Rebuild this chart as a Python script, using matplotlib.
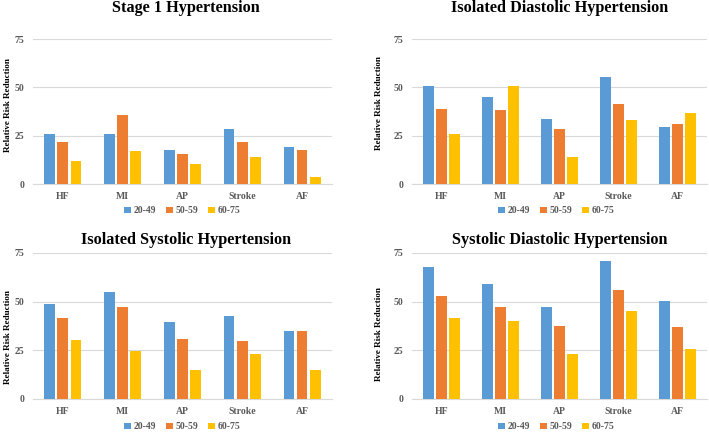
import numpy as np
import matplotlib.pyplot as plt

categories = ["HF", "MI", "AP", "Stroke", "AF"]
age_groups = ["20-49", "50-59", "60-75"]

stage1 = [
    [25.8, 26.0, 17.7, 28.6, 19.4],
    [21.5, 35.8, 15.7, 21.7, 17.4],
    [12.0, 17.2, 10.5, 13.8, 3.4],
]
isolated_diastolic = [
    [50.7, 45.1, 33.7, 55.4, 29.6],
    [38.7, 38.2, 28.6, 41.3, 31.0],
    [26.1, 50.7, 13.9, 33.2, 36.8],
]
isolated_systolic = [
    [48.7, 54.9, 39.5, 42.6, 35.0],
    [41.5, 47.4, 30.7, 29.7, 35.0],
    [30.5, 24.5, 14.8, 23.3, 15.1],
]
systolic_diastolic = [
    [67.6, 58.9, 47.5, 70.7, 50.5],
    [52.9, 47.5, 37.4, 56.1, 37.2],
    [41.7, 40.0, 23.0, 45.3, 25.9],
]

titles = ["Stage 1 Hypertension", "Isolated Diastolic Hypertension",
          "Isolated Systolic Hypertension", "Systolic Diastolic Hypertension"]
panels = [stage1, isolated_diastolic, isolated_systolic, systolic_diastolic]
colors = ["#5B9BD5", "#ED7D31", "#FFC000"]

plt.rcParams["font.family"] = "Liberation Serif"
plt.rcParams["font.weight"] = "bold"

fig = plt.figure(figsize=(7.09, 4.32), dpi=100)

# axes rectangles [left, bottom, width, height], title position, legend position
boxes = [[0.0465, 0.574, 0.4217, 0.3356],
         [0.581, 0.574, 0.416, 0.3356],
         [0.0465, 0.0764, 0.4217, 0.338],
         [0.581, 0.0764, 0.416, 0.338]]
title_pos = [(0.262, 0.981), (0.79, 0.981), (0.262, 0.444), (0.79, 0.444)]
legend_pos = [(0.257, 0.512), (0.785, 0.512), (0.257, 0.012), (0.785, 0.012)]
ylabel_pos = [(0.011, 0.757), (0.535, 0.762), (0.011, 0.22), (0.535, 0.227)]

x = np.arange(len(categories))
width = 0.18
step = 0.22

for i, data in enumerate(panels):
    ax = fig.add_axes(boxes[i])
    for j, vals in enumerate(data):
        ax.bar(x + (j - 1) * step, vals, width, color=colors[j],
               label=age_groups[j], zorder=3)
    ax.set_xlim(-0.5, len(categories) - 0.5)
    ax.set_ylim(0, 75)
    ax.set_yticks([0, 25, 50, 75])
    ax.set_xticks(x)
    ax.set_xticklabels(categories)
    ax.tick_params(axis="both", length=0, labelsize=7, labelcolor="#595959")
    ax.tick_params(axis="x", pad=6)
    ax.tick_params(axis="y", pad=6)
    ax.grid(axis="y", color="#D9D9D9", linewidth=0.8, zorder=0)
    for side in ["top", "right", "left"]:
        ax.spines[side].set_visible(False)
    ax.spines["bottom"].set_color("#D9D9D9")
    # Titles, labels and legend placed in figure coords
    fig.text(title_pos[i][0], title_pos[i][1], titles[i], ha="center",
             va="center", fontsize=11.7, fontweight="bold")
    fig.text(ylabel_pos[i][0], ylabel_pos[i][1], "Relative Risk Reduction",
             rotation=90, ha="center", va="center", fontsize=6.6,
             fontweight="bold")
    handles, labels = ax.get_legend_handles_labels()
    fig.legend(handles, labels, loc="center", ncol=3,
               bbox_to_anchor=legend_pos[i], frameon=False, fontsize=7,
               handlelength=0.7, handleheight=0.7, handletextpad=0.3,
               columnspacing=1.0, labelcolor="#595959")

fig.savefig("out.png", dpi=100)
